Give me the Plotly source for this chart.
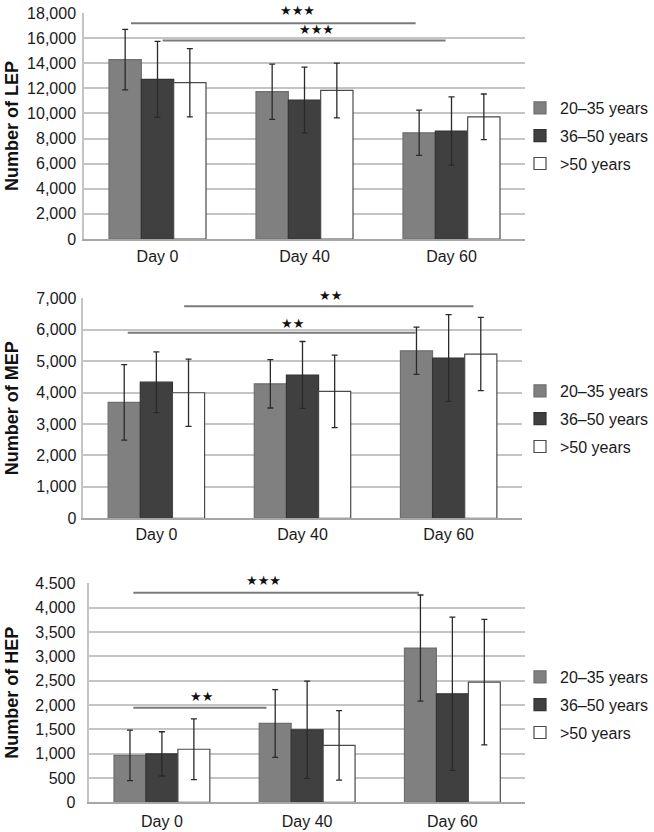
import plotly.graph_objects as go

days = ["Day 0", "Day 40", "Day 60"]
groups = ["20–35 years", "36–50 years", ">50 years"]

# LEP
lep_20_35 = [14280, 11730, 8460]
lep_20_35_err = [2410, 2200, 1800]
lep_36_50 = [12710, 11070, 8600]
lep_36_50_err = [3030, 2620, 2720]
lep_50p = [12450, 11830, 9730]
lep_50p_err = [2720, 2180, 1820]

# MEP
mep_20_35 = [3690, 4280, 5330]
mep_20_35_err = [1200, 770, 750]
mep_36_50 = [4330, 4560, 5100]
mep_36_50_err = [965, 1065, 1380]
mep_50p = [3995, 4040, 5225]
mep_50p_err = [1070, 1155, 1165]

# HEP
hep_20_35 = [965, 1620, 3170]
hep_20_35_err = [520, 695, 1090]
hep_36_50 = [995, 1490, 2230]
hep_36_50_err = [455, 1000, 1575]
hep_50p = [1090, 1170, 2470]
hep_50p_err = [625, 715, 1290]

# y-axis ticks
lep_ticks = [0, 2000, 4000, 6000, 8000, 10000, 12000, 14000, 16000, 18000]
lep_ticktext = ["0", "2,000", "4,000", "6,000", "8,000", "10,000", "12,000", "14,000", "16,000", "18,000"]
mep_ticks = [0, 1000, 2000, 3000, 4000, 5000, 6000, 7000]
mep_ticktext = ["0", "1,000", "2,000", "3,000", "4,000", "5,000", "6,000", "7,000"]
hep_ticks = [0, 500, 1000, 1500, 2000, 2500, 3000, 3500, 4000, 4500]
hep_ticktext = ["0", "500", "1,000", "1,500", "2,000", "2,500", "3,000", "3,500", "4,000", "4.500"]

# significance brackets: (x_start, x_end, y, label, label_x, label_y)
lep_sig = [(-0.18, 1.756, 17190, "★★★", 0.95, 18000), (0.035, 1.96, 15800, "★★★", 1.08, 16700)]
mep_sig = [(0.19, 2.17, 6750, "★★", 1.19, 7000), (-0.196, 1.775, 5905, "★★", 0.93, 6200)]
hep_sig = [(-0.197, 1.77, 4306, "★★★", 0.70, 4500), (-0.197, 0.72, 1944, "★★", 0.27, 2170)]

colors = ["#808080", "#404040", "#ffffff"]
line_colors = ["#6e6e6e", "#333333", "#4a4a4a"]

panels = [
    dict(title="Number of LEP", vals=[lep_20_35, lep_36_50, lep_50p],
         errs=[lep_20_35_err, lep_36_50_err, lep_50p_err],
         ticks=lep_ticks, ticktext=lep_ticktext, rng=[0, 18000], sig=lep_sig,
         xdom=[84 / 654, 525 / 654], ydom=[(832 - 239) / 832, (832 - 13) / 832],
         legend_y=(832 - 91) / 832, ystand=3, xstand=2),
    dict(title="Number of MEP", vals=[mep_20_35, mep_36_50, mep_50p],
         errs=[mep_20_35_err, mep_36_50_err, mep_50p_err],
         ticks=mep_ticks, ticktext=mep_ticktext, rng=[0, 7000], sig=mep_sig,
         xdom=[83.3 / 654, 521.7 / 654], ydom=[(832 - 518.3) / 832, (832 - 298.3) / 832],
         legend_y=(832 - 374) / 832, ystand=2, xstand=1),
    dict(title="Number of HEP", vals=[hep_20_35, hep_36_50, hep_50p],
         errs=[hep_20_35_err, hep_36_50_err, hep_50p_err],
         ticks=hep_ticks, ticktext=hep_ticktext, rng=[0, 4500], sig=hep_sig,
         xdom=[89.3 / 654, 525 / 654], ydom=[(832 - 802.3) / 832, (832 - 583.3) / 832],
         legend_y=(832 - 660) / 832, ystand=9, xstand=4),
]

fig = go.Figure()
FONT = "Liberation Sans, Arial, sans-serif"
annotations = []
shapes = []
for i, p in enumerate(panels):
    n = "" if i == 0 else str(i + 1)
    xa, ya = "x" + n, "y" + n
    leg = "legend" + n
    for g in range(3):
        fig.add_trace(go.Bar(
            x=days, y=p["vals"][g], name=groups[g],
            xaxis=xa, yaxis=ya, legend=leg,
            marker=dict(color=colors[g], line=dict(color=line_colors[g], width=1.2)),
            error_y=dict(type="data", array=p["errs"][g], visible=True,
                         color="#2a2a2a", thickness=1.3, width=3),
            showlegend=True, legendgroup=f"{leg}_{g}",
        ))
    fig.update_layout(**{
        "xaxis" + n: dict(domain=p["xdom"], anchor=ya, showgrid=False, showline=True,
                          linecolor="#a6a6a6", linewidth=1.5, ticks="", ticklen=0,
                          ticklabelstandoff=p["xstand"], automargin=False,
                          tickfont=dict(size=16, color="#1a1a1a", family=FONT), fixedrange=True),
        "yaxis" + n: dict(domain=p["ydom"], anchor=xa, range=p["rng"], tickvals=p["ticks"],
                          ticktext=p["ticktext"], showgrid=True, gridcolor="#c4c4c4", gridwidth=1.5,
                          showline=True, linecolor="#c4c4c4", linewidth=1.5, zeroline=False,
                          ticks="", ticklen=0, automargin=False,
                          ticklabelstandoff=p["ystand"],
                          tickfont=dict(size=16, color="#1a1a1a", family=FONT)),
        leg: dict(x=1, y=p["legend_y"], xanchor="right", yanchor="top",
                  font=dict(size=16, color="#1a1a1a", family=FONT), bgcolor="rgba(0,0,0,0)",
                  tracegroupgap=4, itemwidth=30, itemclick=False),
    })
    annotations.append(dict(text="<b>" + p["title"] + "</b>", textangle=-90, xref="paper",
                            yref="paper", x=12 / 654, y=(p["ydom"][0] + p["ydom"][1]) / 2,
                            showarrow=False, font=dict(size=18, color="#111", family=FONT),
                            xanchor="center", yanchor="middle"))
    for (x0, x1, yv, lab, lx, ly) in p["sig"]:
        shapes.append(dict(type="line", xref=xa, yref=ya, x0=x0, x1=x1, y0=yv, y1=yv,
                           line=dict(color="#7a7a7a", width=2)))
        annotations.append(dict(text=lab, xref=xa, yref=ya, x=lx, y=ly, showarrow=False,
                                font=dict(size=13, color="#111", family="DejaVu Sans"),
                                yanchor="middle", yshift=3 if ly == p["rng"][1] else 0))

fig.update_layout(
    width=654, height=832, margin=dict(l=0, r=0, t=0, b=0, autoexpand=False),
    paper_bgcolor="white", plot_bgcolor="white",
    barmode="group", bargap=0.34, bargroupgap=0,
    annotations=annotations, shapes=shapes,
    font=dict(family=FONT, color="#1a1a1a"),
)
fig.write_html("out.html", config={"displayModeBar": False},
               post_script="document.body.style.margin='0';document.body.style.overflow='hidden';")
